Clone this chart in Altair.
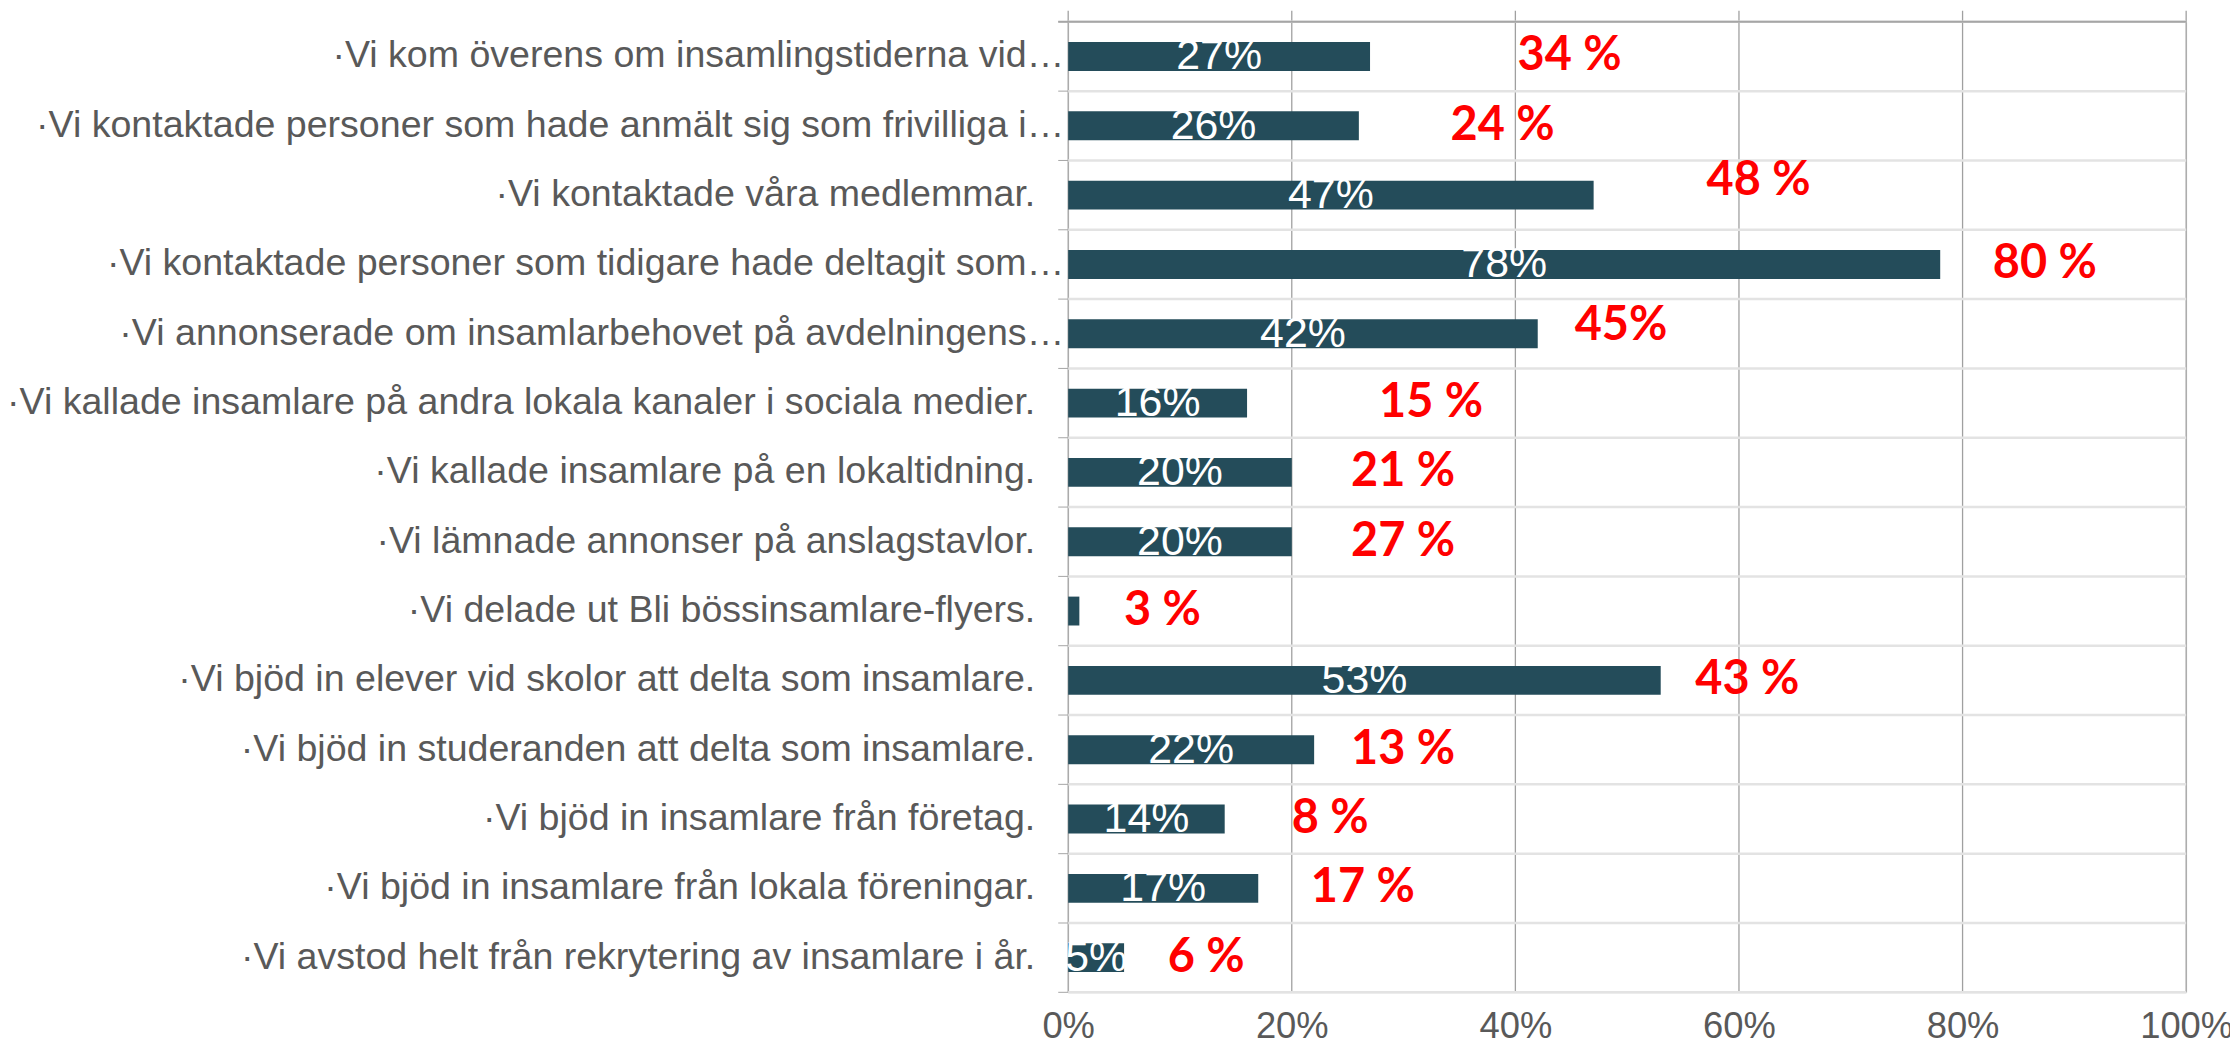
import altair as alt
import pandas as pd

categories = [
    "·Vi kom överens om insamlingstiderna vid…",
    "·Vi kontaktade personer som hade anmält sig som frivilliga i…",
    "·Vi kontaktade våra medlemmar.",
    "·Vi kontaktade personer som tidigare hade deltagit som…",
    "·Vi annonserade om insamlarbehovet på avdelningens…",
    "·Vi kallade insamlare på andra lokala kanaler i sociala medier.",
    "·Vi kallade insamlare på en lokaltidning.",
    "·Vi lämnade annonser på anslagstavlor.",
    "·Vi delade ut Bli bössinsamlare-flyers.",
    "·Vi bjöd in elever vid skolor att delta som insamlare.",
    "·Vi bjöd in studeranden att delta som insamlare.",
    "·Vi bjöd in insamlare från företag.",
    "·Vi bjöd in insamlare från lokala föreningar.",
    "·Vi avstod helt från rekrytering av insamlare i år.",
]
values = [27, 26, 47, 78, 42, 16, 20, 20, 1, 53, 22, 14, 17, 5]
bar_labels = ["27%", "26%", "47%", "78%", "42%", "16%", "20%", "20%", "", "53%", "22%", "14%", "17%", "5%"]
red_labels = ["34 %", "24 %", "48 %", "80 %", "45%", "15 %", "21 %", "27 %", "3 %", "43 %", "13 %", "8 %", "17 %", "6 %"]
red_anchor = [40.2, 34.2, 57.1, 82.7, 45.3, 27.8, 25.3, 25.3, 5.0, 56.1, 25.3, 20.0, 21.7, 8.9]
red_shift = [0, 0, -14, 0, -8, 0, 0, 0, 0, 0, 0, 0, 0, 0]
x_ticks = [0, 20, 40, 60, 80, 100]

W, H = 1122, 974

df = pd.DataFrame({
    "cat": categories,
    "value": values,
    "lbl": bar_labels,
    "red": red_labels,
    "rx": red_anchor,
    "ry": red_shift,
})
ticks_df = pd.DataFrame({"t": x_ticks})
one = pd.DataFrame({"k": [0]})

yscale = alt.Scale(domain=categories, paddingInner=0, paddingOuter=0)
xscale = alt.Scale(domain=[0, 100], nice=False)

x_axis = alt.Axis(
    values=x_ticks,
    labelExpr="datum.value + '%'",
    labelFlush=False,
    grid=False,
    domain=False,
    ticks=False,
    labelFontSize=36.5,
    labelFont="Liberation Sans",
    labelColor="#595959",
    labelPadding=16,
    title=None,
)
y_axis = alt.Axis(labels=False, ticks=False, domain=False, grid=False, title=None)

grid = alt.Chart(ticks_df).mark_rule(color="#a0a0a0", strokeWidth=1.3).encode(
    x=alt.X("t:Q", scale=xscale, axis=x_axis),
    y=alt.value(-11),
    y2=alt.value(H),
)

seps = alt.Chart(df).mark_rule(color="#e3e3e3", strokeWidth=2.5).encode(
    y=alt.Y("cat:N", scale=yscale, sort=categories, bandPosition=0, axis=y_axis),
    x=alt.value(0),
    x2=alt.value(W),
)
left_ticks = alt.Chart(df).mark_rule(color="#a6a6a6", strokeWidth=1).encode(
    y=alt.Y("cat:N", scale=yscale, sort=categories, bandPosition=0, axis=y_axis),
    x=alt.value(-10),
    x2=alt.value(0),
)
bottom = alt.Chart(one).mark_rule(color="#e3e3e3", strokeWidth=2.5).encode(
    y=alt.value(H), x=alt.value(0), x2=alt.value(W)
)
bottom_tick = alt.Chart(one).mark_rule(color="#a6a6a6", strokeWidth=1).encode(
    y=alt.value(H), x=alt.value(-10), x2=alt.value(0)
)
top = alt.Chart(one).mark_rule(color="#a6a6a6", strokeWidth=2).encode(
    y=alt.value(0), x=alt.value(-10), x2=alt.value(W)
)

# category labels: truncated ones (ending in …) reach the plot edge, complete ones sit further left
label_style = dict(fontSize=37.7, font="Liberation Sans", color="#595959", align="right", baseline="middle")
cat_trunc = alt.Chart(df).transform_filter("indexof(datum.cat, '…') >= 0").mark_text(**label_style).encode(
    x=alt.value(-4),
    y=alt.Y("cat:N", scale=yscale, sort=categories, axis=y_axis),
    text="cat:N",
)
cat_full = alt.Chart(df).transform_filter("indexof(datum.cat, '…') < 0").mark_text(**label_style).encode(
    x=alt.value(-33),
    y=alt.Y("cat:N", scale=yscale, sort=categories, axis=y_axis),
    text="cat:N",
)

bars = alt.Chart(df).mark_bar(color="#244c5a", height=29).encode(
    x=alt.X("value:Q", scale=xscale, axis=x_axis),
    y=alt.Y("cat:N", scale=yscale, sort=categories, axis=y_axis),
)

white = alt.Chart(df).transform_calculate(mid="datum.value / 2").mark_text(
    color="white", fontSize=43, font="Liberation Sans", align="center", baseline="middle"
).encode(
    x=alt.X("mid:Q", scale=xscale, axis=x_axis),
    y=alt.Y("cat:N", scale=yscale, sort=categories, axis=y_axis),
    text="lbl:N",
)

red = alt.Chart(df).transform_calculate(
    ryp="datum.ry + %f" % (H / len(categories) / 2)
).mark_text(
    color="#ff0000", fontSize=47, font="Lato", fontWeight="bold", align="left", baseline="middle"
).encode(
    x=alt.X("rx:Q", scale=xscale, axis=x_axis),
    y=alt.Y("cat:N", scale=yscale, sort=categories, axis=y_axis),
    yOffset=alt.YOffset("ryp:Q", scale=None),
    text="red:N",
)

chart = alt.layer(
    grid, seps, left_ticks, bottom, bottom_tick, top, cat_trunc, cat_full, bars, white, red
).properties(
    width=W,
    height=H,
    autosize=alt.AutoSizeParams(type="none"),
    padding={"left": 1064, "top": 12, "right": 44, "bottom": 51},
).configure_view(stroke=None).configure(background="white")

chart.save("out.html", embed_options={"renderer": "svg", "actions": False})
